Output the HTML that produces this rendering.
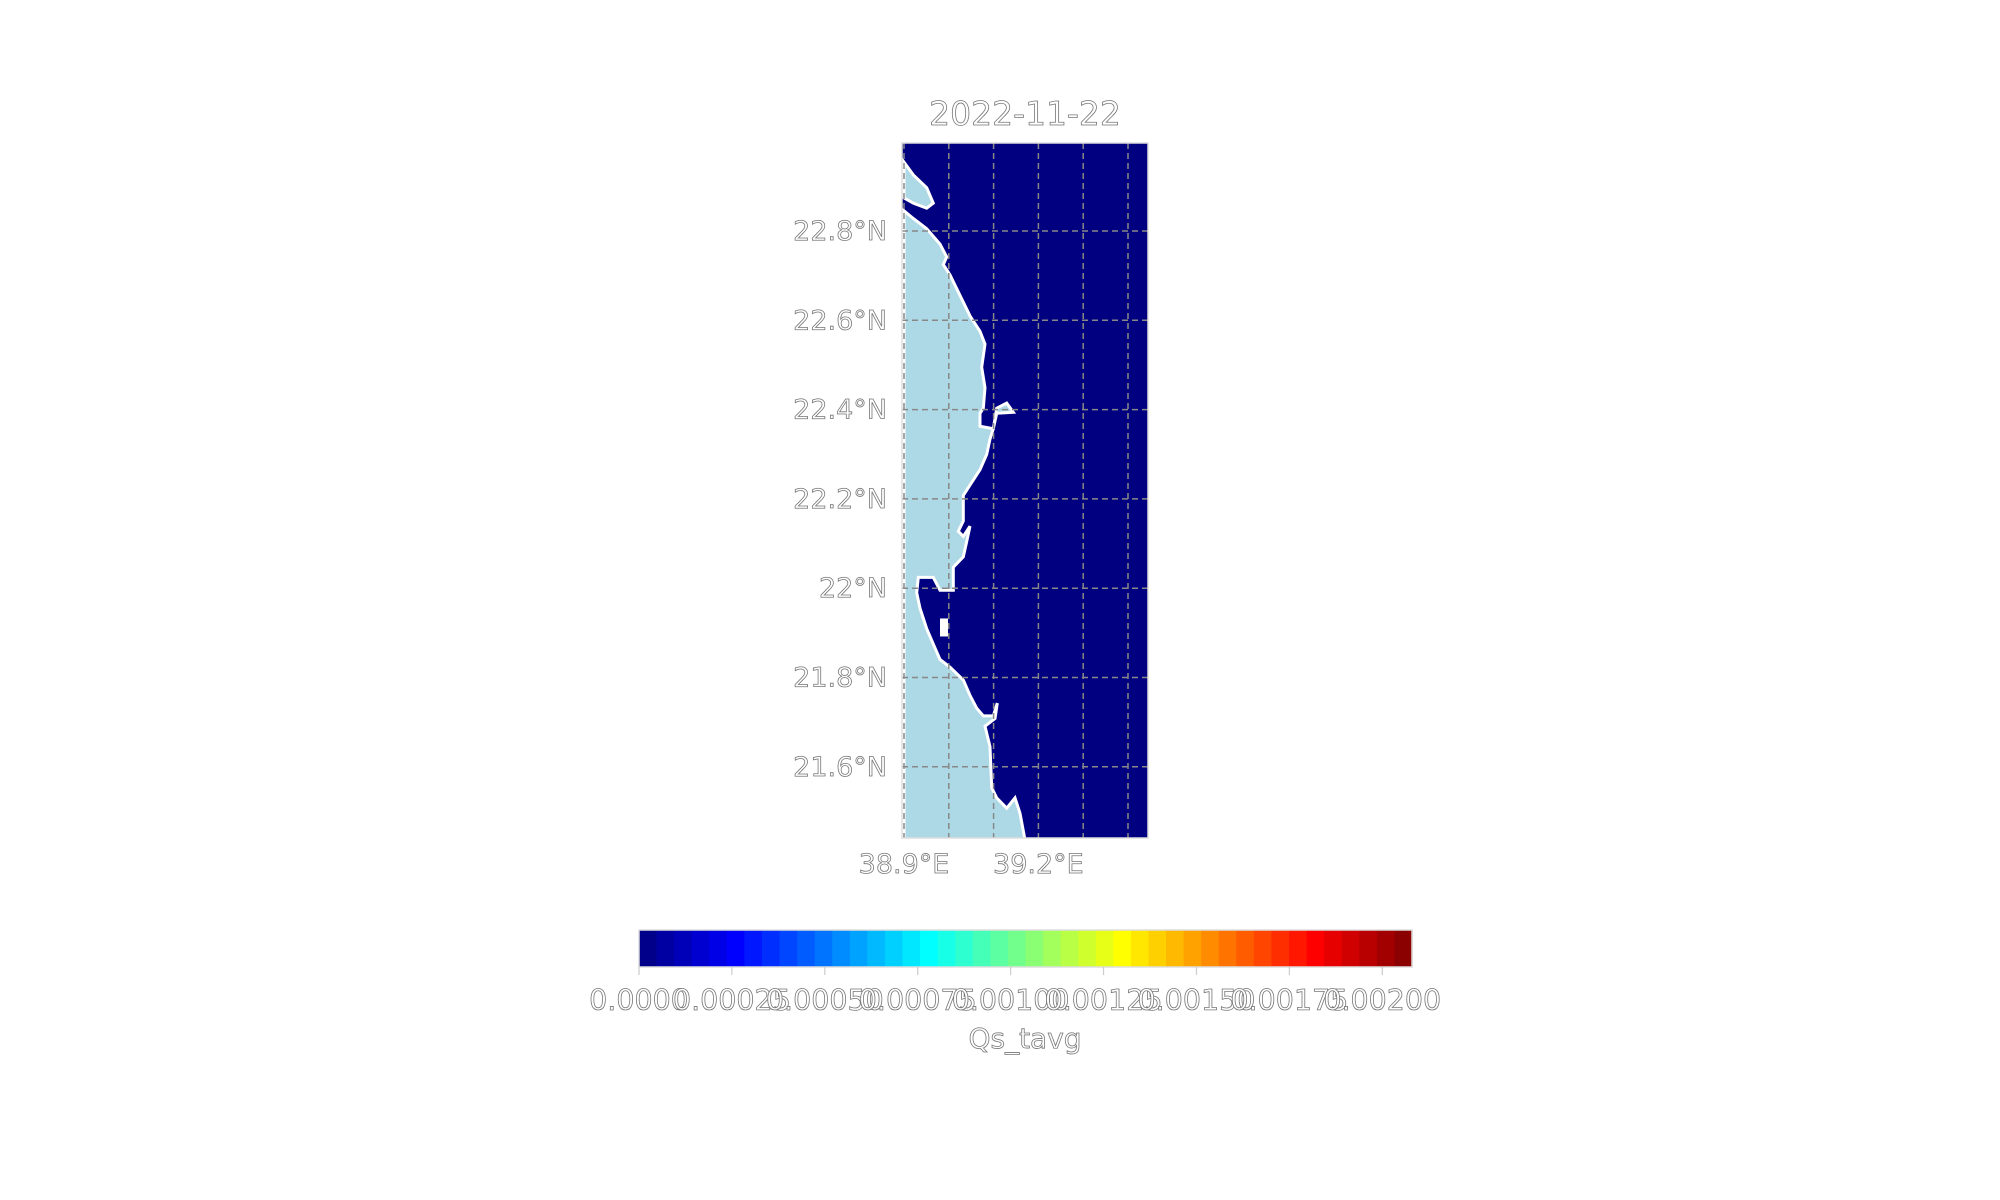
<!DOCTYPE html>
<html><head><meta charset="utf-8"><style>
html,body{margin:0;padding:0;background:#fff;}
svg{display:block;}
text{font-family:"DejaVu Sans","Liberation Sans",sans-serif;fill:#fff;stroke:#777;stroke-width:0.8;}
</style></head><body>
<svg id="fig" width="2000" height="1200" viewBox="0 0 2000 1200" xmlns="http://www.w3.org/2000/svg">
<rect width="2000" height="1200" fill="#fff"/>
<text x="1025" y="125" font-size="33" text-anchor="middle">2022-11-22</text>
<g id="map"></g>
<g id="cbar"></g>
<text x="1025" y="1048" font-size="28" text-anchor="middle">Qs_tavg</text>
</svg>
<script>
const lonTicks=[38.9,39.0,39.1,39.2,39.3,39.4];
const lonLabels=["38.9°E","39.2°E"];
const lonLabelVals=[38.9,39.2];
const latTicks=[22.8,22.6,22.4,22.2,22.0,21.8,21.6];
const latLabels=["22.8°N","22.6°N","22.4°N","22.2°N","22°N","21.8°N","21.6°N"];
const cbTicks=[0,0.00025,0.0005,0.00075,0.001,0.00125,0.0015,0.00175,0.002];
const cbLabels=["0.0000","0.00025","0.00050","0.00075","0.00100","0.00125","0.00150","0.00175","0.00200"];
const cbMax=0.00208;
const nLevels=44;
const coast=[[372,255],[400,270],[440,290],[480,320],[500,345],[490,360],[510,380],[540,420],[570,460],[600,490],[615,515],[605,560],[615,600],[610,640],[600,650],[600,675],[640,680],[650,650],[700,648],[680,630],[650,640],[640,680],[630,700],[620,730],[600,760],[570,790],[550,810],[550,860],[535,880],[550,890],[570,870],[560,900],[550,930],[520,950],[520,995],[480,995],[460,970],[415,970],[410,1000],[420,1030],[440,1070],[460,1100],[480,1130],[510,1145],[550,1170],[570,1200],[590,1225],[610,1240],[640,1240],[652,1215],[645,1245],[615,1260],[630,1300],[635,1380],[650,1400],[680,1420],[705,1400],[720,1430],[735,1482],[372,1482]];
const island=[[372,160],[400,185],[440,210],[460,240],[440,250],[400,240],[372,230]];

const NS='http://www.w3.org/2000/svg';
const L=902,R=1148,T=143,B=838;
const xLon=v=>904+(v-38.9)*448;
const yLat=v=>231+(22.8-v)*446.5;
const zx=p=>780+p/3, zy=p=>80+p/1.95;
function mk(tag,attrs,parent){const e=document.createElementNS(NS,tag);for(const k in attrs)e.setAttribute(k,attrs[k]);parent.appendChild(e);return e;}
const map=document.getElementById('map');
const bg=mk('rect',{x:L,y:T,width:R-L,height:B-T,fill:'#000080'},map);


const pts=a=>a.map(p=>zx(p[0]).toFixed(1)+','+zy(p[1]).toFixed(1)).join(' ');
const land=mk('polygon',{points:pts(coast),fill:'#add8e6',stroke:'#fff','stroke-width':3},map);


const isl=mk('polygon',{points:pts(island),fill:'#add8e6',stroke:'#fff','stroke-width':3},map);


const wp=mk('rect',{x:zx(480),y:zy(1050),width:8,height:18,fill:'#fff'},map);


lonTicks.forEach(v=>{const g=mk('line',{x1:xLon(v),x2:xLon(v),y1:T,y2:B,stroke:'#888','stroke-width':1.5,'stroke-dasharray':'6,4'},map);

});
latTicks.forEach((v,i)=>{const g=mk('line',{x1:L,x2:R,y1:yLat(v),y2:yLat(v),stroke:'#888','stroke-width':1.5,'stroke-dasharray':'6,4'},map);


const t=mk('text',{x:887,y:yLat(v)+9,'font-size':27,'text-anchor':'end'},map);t.textContent=latLabels[i];

});
lonLabelVals.forEach((v,i)=>{const t=mk('text',{x:xLon(v),y:873,'font-size':27,'text-anchor':'middle'},map);t.textContent=lonLabels[i];

});
const fr=mk('rect',{x:L,y:T,width:R-L,height:B-T,fill:'none',stroke:'#ddd','stroke-width':1.5},map);


function jet(t){const r=Math.min(Math.max(Math.min(4*t-1.5,-4*t+4.5),0),1),g=Math.min(Math.max(Math.min(4*t-0.5,-4*t+3.5),0),1),b=Math.min(Math.max(Math.min(4*t+0.5,-4*t+2.5),0),1);return `rgb(${r*255|0},${g*255|0},${b*255|0})`;}
const cb=document.getElementById('cbar');
const CL=639,CR=1412,CT=930,CB=967;
const xCb=v=>CL+v/cbMax*(CR-CL);
for(let i=0;i<nLevels;i++){const s=mk('rect',{x:CL+i*(CR-CL)/nLevels,y:CT,width:(CR-CL)/nLevels+0.6,height:CB-CT,fill:jet((i+0.5)/nLevels)},cb);

}
const cf=mk('rect',{x:CL,y:CT,width:CR-CL,height:CB-CT,fill:'none',stroke:'#ddd','stroke-width':1.5},cb);


cbTicks.forEach((v,i)=>{const tk=mk('line',{x1:xCb(v),x2:xCb(v),y1:CB,y2:CB+8,stroke:'#ccc','stroke-width':1.2},cb);


const t=mk('text',{x:xCb(v),y:1010,'font-size':28.5,'text-anchor':'middle'},cb);t.textContent=cbLabels[i];

});
</script>
</body></html>
